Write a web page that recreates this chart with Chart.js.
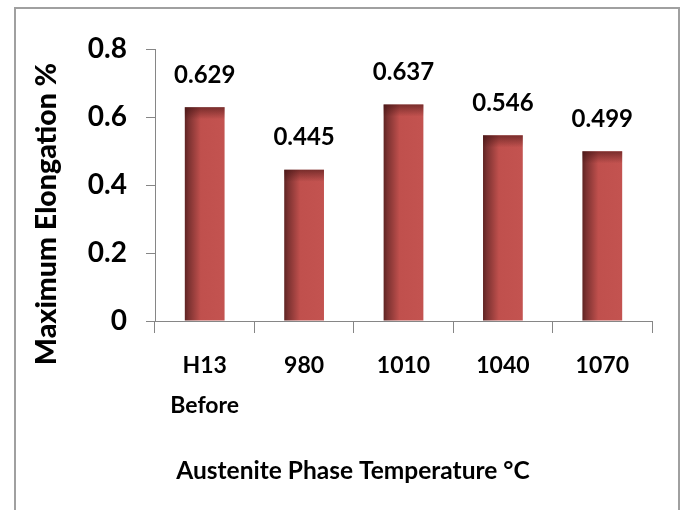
<!DOCTYPE html>
<html>
<head>
<meta charset="utf-8">
<script src="https://cdn.jsdelivr.net/npm/chart.js@4.4.1/dist/chart.umd.min.js"></script>
<style>
  html, body { margin: 0; padding: 0; background: #fff; overflow: hidden; }
  #wrap { position: relative; width: 682px; height: 510px; }
  #frame {
    position: absolute; left: 14px; top: 7px; width: 666px; height: 530px;
    border: 2px solid #a0a0a0; box-sizing: border-box;
  }
  canvas { position: absolute; left: 0; top: 0; }
</style>
</head>
<body>
<div id="wrap">
  <div id="frame"></div>
  <canvas id="elongChart" width="682" height="510"></canvas>
</div>
<script>
const categories = [['H13', 'Before'], '980', '1010', '1040', '1070'];
const elongation = [0.629, 0.445, 0.637, 0.546, 0.499];
const yTicks = [0, 0.2, 0.4, 0.6, 0.8];
const xTitle = 'Austenite Phase Temperature °C';
const yTitle = 'Maximum Elongation %';

const FONT = 'Lato, "Open Sans", sans-serif';

// bar shading: dark left edge fading into the red
function barFill(context) {
  const chart = context.chart;
  const { ctx, scales } = chart;
  if (!chart.chartArea) return '#c0504d';
  const meta = chart.getDatasetMeta(context.datasetIndex);
  const bar = meta.data[context.dataIndex];
  const w = bar && bar.width ? bar.width : 40;
  const cx = scales.x.getPixelForValue(context.dataIndex);
  const g = ctx.createLinearGradient(cx - w / 2, 0, cx + w / 2, 0);
  g.addColorStop(0, '#5e2322');
  g.addColorStop(0.1, '#7c3231');
  g.addColorStop(0.4, '#c0504d');
  g.addColorStop(1, '#c35350');
  return g;
}

const extras = {
  id: 'extras',
  afterDatasetsDraw(chart) {
    const { ctx } = chart;
    const meta = chart.getDatasetMeta(0);
    meta.data.forEach((bar, i) => {
      // darker top edge
      const g = ctx.createLinearGradient(0, bar.y, 0, bar.y + 12);
      g.addColorStop(0, 'rgba(60,15,15,0.55)');
      g.addColorStop(1, 'rgba(60,15,15,0)');
      ctx.save();
      ctx.fillStyle = g;
      ctx.fillRect(bar.x - bar.width / 2, bar.y, bar.width, 12);
      ctx.restore();

      ctx.save();
      ctx.font = 'bold 24px ' + FONT;
      ctx.fillStyle = '#000';
      ctx.textAlign = 'center';
      ctx.textBaseline = 'middle';
      ctx.fillText(elongation[i].toFixed(3), bar.x, bar.y - 32);
      ctx.restore();
    });
  },
  afterDraw(chart) {
    const { ctx } = chart;
    ctx.save();
    ctx.fillStyle = '#000';
    ctx.font = 'bold 24.5px ' + FONT;
    ctx.textAlign = 'center';
    ctx.textBaseline = 'alphabetic';
    ctx.fillText(xTitle, 353, 479);
    ctx.translate(56, 214);
    ctx.rotate(-Math.PI / 2);
    ctx.font = '900 28.5px ' + FONT;
    ctx.fillText(yTitle, 0, 0);
    ctx.restore();
  }
};

new Chart(document.getElementById('elongChart'), {
  type: 'bar',
  data: {
    labels: categories,
    datasets: [{
      data: elongation,
      backgroundColor: barFill,
      barPercentage: 0.4,
      categoryPercentage: 1
    }]
  },
  options: {
    responsive: false,
    animation: false,
    layout: { padding: { top: 49, right: 30, left: 0, bottom: 0 } },
    plugins: { legend: { display: false }, tooltip: { enabled: false } },
    scales: {
      x: {
        afterFit(scale) { scale.height = 189; },
        grid: { offset: true, drawOnChartArea: false, drawTicks: true, tickLength: 12, color: '#868686' },
        border: { color: '#868686', width: 1 },
        ticks: { color: '#000', padding: 12, font: { family: FONT, size: 23, weight: 'bold', lineHeight: 1.75 } }
      },
      y: {
        min: 0,
        max: 0.8,
        afterFit(scale) { scale.width = 155; },
        afterBuildTicks(scale) { scale.ticks = yTicks.map(v => ({ value: v })); },
        grid: { drawOnChartArea: false, drawTicks: true, tickLength: 9, color: '#868686' },
        border: { color: '#868686', width: 1 },
        ticks: { color: '#000', padding: 19, font: { family: FONT, size: 28, weight: 'bold' } }
      }
    }
  },
  plugins: [extras]
});
</script>
</body>
</html>
